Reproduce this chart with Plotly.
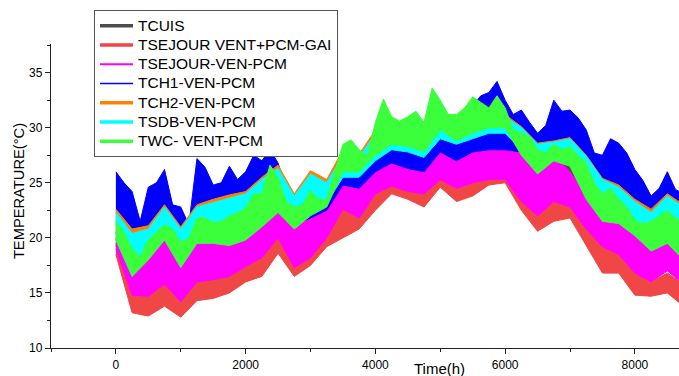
import plotly.graph_objects as go

# sampling hours (every 250 h) for the envelopes
hours = [0, 250, 500, 750, 1000, 1250, 1500, 1750, 2000, 2250, 2500, 2750,
         3000, 3250, 3500, 3750, 4000, 4250, 4500, 4750, 5000, 5250, 5500, 5750,
         6000, 6250, 6500, 6750, 7000, 7250, 7500, 7750, 8000, 8250, 8500, 8750]
# finer sampling (every 125 h) for the spiky upper edges
hours_fine = [0, 125, 250, 375, 500, 625, 750, 875, 1000, 1125, 1250, 1375, 1500, 1625,
              1750, 1875, 2000, 2125, 2250, 2375, 2500, 2625, 2750, 2875, 3000, 3125,
              3250, 3375, 3500, 3625, 3750, 3875, 4000, 4125, 4250, 4375, 4500, 4625,
              4750, 4875, 5000, 5125, 5250, 5375, 5500, 5625, 5750, 5875, 6000, 6125,
              6250, 6375, 6500, 6625, 6750, 6875, 7000, 7125, 7250, 7375, 7500, 7625,
              7750, 7875, 8000, 8125, 8250, 8375, 8500, 8625, 8750]

# envelope (low / high) of each series (°C)
tcuis_lo = [19.3, 16.0, 17.0, 18.5, 16.3, 18.8, 18.6, 18.8, 19.5, 20.5, 21.8, 20.0,
            21.0, 21.8, 24.5, 24.2, 25.8, 26.5, 26.3, 26.0, 27.5, 26.8, 27.6, 27.6,
            27.8, 26.0, 24.8, 25.5, 24.8, 22.5, 20.5, 20.3, 19.2, 18.0, 18.7, 17.4]
tcuis_hi = [20.5, 17.5, 18.5, 20.0, 17.5, 20.0, 20.0, 19.8, 20.3, 21.4, 22.8, 21.0,
            22.2, 23.0, 26.0, 25.8, 27.6, 28.5, 28.3, 27.8, 29.8, 28.6, 29.5, 29.8,
            30.0, 27.6, 25.9, 27.0, 26.5, 23.5, 21.5, 21.3, 20.2, 18.9, 19.6, 18.2]

red_lo = [18.5, 13.2, 12.9, 13.8, 12.8, 14.3, 14.5, 15.0, 16.0, 16.5, 18.6, 16.5,
          17.5, 19.2, 20.0, 20.8, 22.5, 24.0, 23.5, 22.8, 24.6, 23.3, 23.8, 24.8,
          25.0, 22.5, 20.6, 21.5, 21.8, 19.3, 16.8, 16.8, 14.8, 14.7, 15.0, 13.8]
red_hi = [19.5, 17.0, 16.5, 18.0, 15.8, 18.5, 18.0, 18.5, 19.0, 20.5, 22.0, 19.5,
          20.3, 21.0, 23.2, 23.0, 25.5, 26.0, 25.5, 25.0, 26.5, 26.0, 26.5, 27.0,
          27.5, 24.0, 22.8, 24.0, 23.2, 21.5, 20.0, 18.8, 17.5, 16.0, 16.8, 15.8]

mag_lo = [19.0, 14.8, 14.7, 15.8, 14.2, 16.0, 16.2, 16.5, 17.4, 18.2, 20.0, 17.3,
          18.2, 20.0, 22.6, 21.8, 24.0, 24.7, 24.2, 24.0, 25.3, 24.5, 25.0, 25.3,
          25.3, 23.3, 22.0, 23.3, 22.8, 20.8, 19.2, 18.5, 16.8, 16.0, 17.0, 15.8]
mag_hi = [20.0, 18.6, 18.9, 19.8, 17.8, 21.0, 20.8, 21.0, 22.0, 23.3, 24.4, 22.2,
          23.0, 23.8, 26.0, 25.8, 28.0, 28.5, 28.3, 28.0, 29.5, 29.0, 30.0, 29.5,
          30.2, 27.5, 26.0, 27.5, 26.0, 24.0, 23.5, 22.5, 21.0, 19.8, 20.5, 19.5]

blue_lo = [19.8, 18.6, 20.0, 21.0, 18.8, 21.0, 21.0, 20.5, 20.8, 21.5, 22.5, 21.2,
           21.8, 22.5, 24.8, 24.5, 26.0, 26.8, 26.3, 26.0, 27.8, 27.0, 27.8, 28.0,
           28.0, 27.8, 26.5, 27.3, 27.0, 25.5, 24.4, 24.0, 22.5, 21.5, 22.5, 21.8]
blue_hi = [26.0, 25.0, 24.2, 21.5, 24.6, 25.0, 26.2, 23.0, 22.8, 21.2, 27.2, 26.4, 24.8, 25.0,
           26.5, 25.3, 26.0, 27.5, 27.0, 28.0, 26.8, 24.4, 23.5, 22.5, 26.0, 25.0,
           25.2, 25.9, 26.3, 26.0, 26.0, 26.5, 28.5, 29.5, 29.0, 28.5, 28.8, 28.5,
           28.5, 29.5, 30.5, 29.5, 30.2, 31.5, 32.0, 32.9, 33.2, 34.2, 32.5, 31.2,
           31.6, 30.5, 29.5, 30.2, 32.5, 31.5, 31.6, 30.9, 29.8, 27.7, 27.5, 29.0,
           28.6, 27.7, 26.2, 25.2, 23.8, 24.5, 26.0, 24.4, 24.0]

orange_lo = [20.6, 18.0, 19.5, 21.3, 18.8, 21.0, 20.8, 20.6, 21.3, 22.6, 24.0, 22.3,
             23.3, 23.5, 25.8, 25.8, 27.3, 28.2, 28.0, 27.5, 29.2, 28.7, 29.2, 29.7,
             29.7, 28.2, 26.9, 27.2, 27.4, 25.2, 23.7, 23.2, 21.7, 20.8, 21.7, 20.4]
orange_hi = [22.6, 20.8, 21.1, 23.0, 21.0, 23.0, 23.5, 23.9, 24.2, 25.5, 26.6, 24.0,
             26.1, 25.3, 28.0, 27.6, 29.8, 30.2, 30.2, 29.7, 31.2, 30.6, 31.4, 31.1,
             31.2, 30.1, 28.6, 28.8, 29.1, 27.5, 25.4, 24.8, 23.5, 22.6, 24.0, 23.0]

cyan_lo = [20.3, 17.6, 19.2, 21.0, 18.5, 20.8, 20.5, 20.3, 21.0, 22.3, 23.8, 22.0,
           23.0, 23.2, 25.5, 25.5, 27.0, 28.0, 27.8, 27.3, 29.0, 28.5, 29.0, 29.5,
           29.5, 28.0, 26.7, 27.0, 27.2, 25.0, 23.5, 23.0, 21.5, 20.6, 21.5, 20.2]
cyan_hi = [22.3, 20.4, 20.8, 22.8, 20.8, 22.8, 23.2, 23.6, 24.0, 25.3, 26.3, 23.8,
           25.8, 25.0, 27.5, 27.3, 29.5, 30.0, 30.0, 29.5, 31.0, 30.5, 31.3, 31.0,
           31.0, 30.0, 28.5, 28.7, 29.0, 27.4, 25.3, 24.6, 23.3, 22.3, 23.8, 22.8]

green_lo = [19.8, 16.5, 18.0, 19.8, 17.3, 19.5, 19.5, 19.3, 19.8, 21.0, 22.3, 20.8,
            22.0, 22.8, 26.0, 26.0, 27.5, 28.5, 28.3, 27.8, 29.8, 28.8, 29.5, 30.0,
            30.0, 27.5, 25.8, 27.0, 26.5, 23.5, 21.5, 21.3, 20.2, 18.8, 19.5, 18.0]
green_hi = [21.5, 20.5, 19.0, 18.3, 19.8, 20.5, 21.2, 20.8, 19.6, 20.0, 21.8, 21.8, 21.4, 21.5,
            22.0, 22.3, 22.7, 24.0, 24.0, 26.6, 25.5, 23.3, 22.8, 23.0, 24.3, 23.5,
            23.5, 26.0, 28.5, 28.9, 28.0, 27.4, 30.5, 32.6, 31.0, 30.6, 31.0, 31.5,
            30.5, 33.6, 32.5, 31.2, 31.2, 31.8, 32.8, 32.3, 31.8, 32.9, 31.8, 29.8,
            29.5, 29.2, 28.0, 27.7, 28.5, 28.0, 28.3, 27.5, 26.8, 25.0, 24.0, 24.5,
            23.5, 22.8, 21.6, 21.3, 21.5, 22.0, 22.5, 21.8, 21.5]

names = ["TCUIS", "TSEJOUR VENT+PCM-GAI", "TSEJOUR-VEN-PCM", "TCH1-VEN-PCM",
         "TCH2-VEN-PCM", "TSDB-VEN-PCM", "TWC- VENT-PCM"]
colors = ["#4d4d4d", "#f04646", "#ff00ff", "#0000ff", "#ff8000", "#00ffff", "#3cff3c"]
legend_widths = [3.5, 3.5, 2.0, 1.5, 3.5, 3.5, 3.5]
bands = [(tcuis_lo, tcuis_hi), (red_lo, red_hi), (mag_lo, mag_hi), (blue_lo, blue_hi),
         (orange_lo, orange_hi), (cyan_lo, cyan_hi), (green_lo, green_hi)]

fig = go.Figure()
for (lo, hi), c in zip(bands, colors):
    xh = hours_fine if len(hi) == len(hours_fine) else hours
    fig.add_trace(go.Scatter(x=hours, y=lo, mode="lines", line=dict(color=c, width=1),
                             showlegend=False, hoverinfo="skip"))
    fig.add_trace(go.Scatter(x=xh, y=hi, mode="lines", line=dict(color=c, width=1),
                             fill="tonexty", fillcolor=c, showlegend=False, hoverinfo="skip"))

for n, c, w in zip(names, colors, legend_widths):
    fig.add_trace(go.Scatter(x=[None], y=[None], mode="lines",
                             name='<span style="font-size:15.5px">' + n + '</span>',
                             line=dict(color=c, width=w)))

font = "Liberation Sans, Arial, sans-serif"
fig.update_layout(
    width=679, height=376,
    margin=dict(l=51, r=0, t=44, b=28),
    paper_bgcolor="white", plot_bgcolor="white",
    font=dict(family=font, size=12, color="black"),
    showlegend=True,
    legend=dict(x=0.0685, y=1.1118, xanchor="left", yanchor="top",
                bgcolor="white", bordercolor="#555555", borderwidth=1,
                font=dict(family=font, size=12.5, color="black"),
                itemwidth=33, tracegroupgap=0, traceorder="normal"),
    xaxis=dict(range=[-1000, 8680], tick0=0, dtick=2000, showgrid=False, zeroline=False,
               showline=True, linecolor="#222222", linewidth=1.3,
               ticks="outside", ticklen=5, tickwidth=1.3, tickcolor="#222222",
               minor=dict(dtick=1000, ticks="outside", ticklen=3, tickwidth=1.3,
                          tickcolor="#222222", showgrid=False),
               tickfont=dict(size=12)),
    yaxis=dict(range=[10, 37.6], tick0=10, dtick=5, showgrid=False, zeroline=False,
               showline=True, linecolor="#222222", linewidth=1.3,
               ticks="outside", ticklen=5, tickwidth=1.3, tickcolor="#222222",
               minor=dict(dtick=2.5, ticks="outside", ticklen=3, tickwidth=1.3,
                          tickcolor="#222222", showgrid=False),
               tickfont=dict(size=12)),
    annotations=[
        dict(text="TEMPERATURE(°C)", x=-0.051, y=0.516, xref="paper", yref="paper",
             xanchor="center", yanchor="middle", textangle=-90, showarrow=False,
             font=dict(family=font, size=14.7, color="black")),
        dict(text="Time(h)", x=0.618, y=-0.066, xref="paper", yref="paper",
             xanchor="center", yanchor="middle", showarrow=False,
             font=dict(family=font, size=15, color="black")),
    ],
)

fig.write_html("out.html")
